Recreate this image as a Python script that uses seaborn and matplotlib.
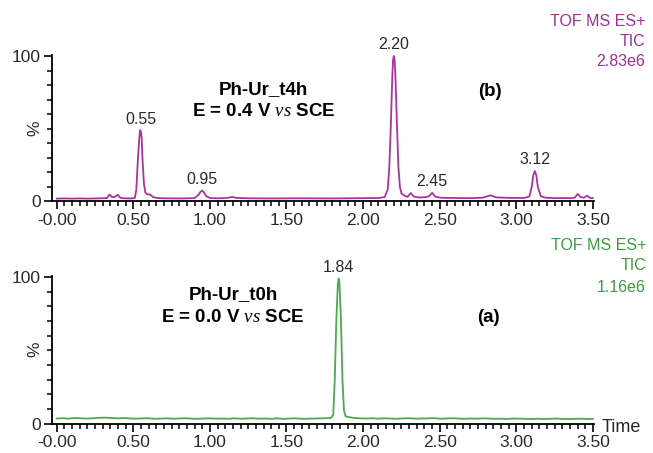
import matplotlib
matplotlib.use("Agg")
import matplotlib.pyplot as plt
from matplotlib.ticker import MultipleLocator, FixedLocator
import seaborn as sns
import pandas as pd

# ---------------- data ----------------
# (b) Ph-Ur_t4h, E = 0.4 V vs SCE  -- TIC in % of 2.83e6
t_top = [0.00, 0.05, 0.10, 0.15, 0.20, 0.25, 0.30, 0.33, 0.345, 0.36, 0.375, 0.40, 0.415,
         0.44, 0.48, 0.51, 0.52, 0.53, 0.54, 0.545, 0.55, 0.555, 0.56, 0.57, 0.58, 0.59,
         0.61, 0.63, 0.66, 0.70, 0.80, 0.90, 0.925, 0.94, 0.95, 0.96, 0.975, 1.00, 1.05,
         1.10, 1.13, 1.145, 1.17, 1.25, 1.40, 1.60, 1.80, 2.00, 2.10, 2.14, 2.16, 2.17,
         2.18, 2.19, 2.195, 2.20, 2.205, 2.21, 2.22, 2.23, 2.24, 2.25, 2.27, 2.29, 2.31,
         2.33, 2.36, 2.40, 2.43, 2.45, 2.47, 2.50, 2.60, 2.70, 2.78, 2.83, 2.87, 2.95,
         3.05, 3.085, 3.10, 3.11, 3.12, 3.13, 3.14, 3.16, 3.19, 3.25, 3.30, 3.35, 3.38,
         3.40, 3.42, 3.44, 3.46, 3.48, 3.50]
i_top = [2.0, 2.1, 2.0, 2.1, 2.0, 2.1, 2.2, 2.4, 4.8, 3.2, 3.0, 4.6, 2.6,
         2.2, 2.1, 2.3, 8.0, 28.0, 44.0, 49.0, 48.0, 44.0, 30.0, 12.0, 6.0, 5.0,
         4.8, 3.0, 2.4, 2.2, 2.1, 2.3, 4.5, 6.8, 7.5, 6.5, 3.8, 2.4, 2.2,
         2.3, 2.8, 3.2, 2.5, 2.2, 2.1, 2.2, 2.1, 2.3, 2.4, 3.0, 8.0, 22.0,
         50.0, 85.0, 97.0, 100.0, 98.0, 88.0, 55.0, 24.0, 10.0, 5.5, 4.0, 3.2, 5.8,
         3.4, 2.8, 2.9, 3.6, 6.0, 3.4, 2.6, 2.4, 2.3, 2.6, 4.2, 2.8, 2.5,
         2.4, 3.5, 10.0, 18.0, 21.0, 18.0, 10.0, 3.6, 2.6, 2.3, 2.4, 2.3, 2.6,
         5.2, 3.0, 2.6, 4.0, 2.4, 2.4]

# (a) Ph-Ur_t0h, E = 0.0 V vs SCE  -- TIC in % of 1.16e6
t_bot = [0.00, 0.04, 0.08, 0.12, 0.16, 0.20, 0.24, 0.28, 0.32, 0.36, 0.40, 0.44, 0.48,
         0.52, 0.56, 0.60, 0.64, 0.68, 0.72, 0.76, 0.80, 0.84, 0.88, 0.92, 0.96, 1.00,
         1.04, 1.08, 1.12, 1.16, 1.20, 1.24, 1.28, 1.32, 1.36, 1.40, 1.44, 1.48, 1.52,
         1.56, 1.60, 1.64, 1.68, 1.72, 1.76, 1.79, 1.805, 1.815, 1.825, 1.835, 1.84,
         1.845, 1.855, 1.865, 1.875, 1.885, 1.90, 1.94, 1.98, 2.02, 2.06, 2.10, 2.14,
         2.18, 2.22, 2.26, 2.30, 2.34, 2.38, 2.42, 2.46, 2.50, 2.54, 2.58, 2.62, 2.66,
         2.70, 2.74, 2.78, 2.82, 2.86, 2.90, 2.94, 2.98, 3.02, 3.06, 3.10, 3.14, 3.18,
         3.22, 3.26, 3.30, 3.34, 3.38, 3.42, 3.46, 3.50]
i_bot = [3.4, 3.6, 3.3, 3.8, 3.5, 3.4, 3.6, 3.9, 4.0, 3.7, 3.5, 3.8, 3.4,
         3.3, 3.5, 3.6, 3.2, 3.4, 3.5, 3.3, 3.4, 3.6, 3.3, 3.2, 3.4, 3.5,
         3.3, 3.4, 3.2, 3.5, 3.3, 3.4, 3.6, 3.3, 3.4, 3.2, 3.5, 3.1, 3.4,
         3.5, 3.2, 3.3, 3.4, 3.5, 3.6, 3.8, 6.0, 30.0, 70.0, 95.0, 99.0,
         97.0, 72.0, 30.0, 9.0, 5.0, 4.5, 3.8, 3.5, 3.4, 3.6, 3.3, 3.5,
         3.4, 3.2, 3.5, 3.6, 3.3, 3.4, 3.5, 3.7, 3.3, 3.4, 3.6, 3.4, 3.2,
         3.4, 3.3, 3.5, 3.4, 3.2, 3.3, 3.1, 3.4, 3.3, 3.2, 3.0, 3.3, 3.1,
         3.2, 3.4, 3.1, 3.0, 3.2, 3.3, 3.1, 3.2]

peak_t_top = [0.55, 0.95, 2.20, 2.45, 3.12]
peak_h_top = [49.0, 7.5, 100.0, 6.0, 21.0]
peak_lbl_top = ["0.55", "0.95", "2.20", "2.45", "3.12"]
peak_t_bot = [1.84]
peak_h_bot = [99.0]
peak_lbl_bot = ["1.84"]

x_ticks = [0.0, 0.5, 1.0, 1.5, 2.0, 2.5, 3.0, 3.5]
x_labels = ["-0.00", "0.50", "1.00", "1.50", "2.00", "2.50", "3.00", "3.50"]

df_top = pd.DataFrame({"time": t_top, "pct": i_top})
df_bot = pd.DataFrame({"time": t_bot, "pct": i_bot})

# ---------------- style ----------------
sns.set_style("ticks")
plt.rcParams["font.family"] = ["Liberation Sans", "DejaVu Sans"]
plt.rcParams["mathtext.fontset"] = "custom"
plt.rcParams["mathtext.it"] = "Liberation Serif:italic"
plt.rcParams["mathtext.rm"] = "Liberation Sans"

PURPLE = "#A8359E"
PURPLE_T = "#9E2F94"
GREEN = "#4FA84F"
GREEN_T = "#3E9A3E"
TXT = "#2a2a2a"

W, H = 653, 453
fig = plt.figure(figsize=(W / 100, H / 100), dpi=100)

def px_axes(x0, x1, y_zero, y_top):
    return fig.add_axes([x0 / W, 1 - y_zero / H, (x1 - x0) / W, (y_zero - y_top) / H])

ax_top = px_axes(52, 593.8, 201.5, 54.5)
ax_bot = px_axes(52, 593.8, 423.5, 275.5)

for ax, df, col in [(ax_top, df_top, PURPLE), (ax_bot, df_bot, GREEN)]:
    sns.lineplot(data=df, x="time", y="pct", ax=ax, color=col, linewidth=1.3)
    ax.set_xlim(-0.03, 3.505)
    ax.set_ylim(0, 101)
    ax.set_xlabel("")
    sns.despine(ax=ax)
    for s in ["left", "bottom"]:
        ax.spines[s].set_color("black")
        ax.spines[s].set_linewidth(1.3)
    ax.xaxis.set_major_locator(FixedLocator(x_ticks))
    ax.set_xticklabels(x_labels)
    ax.xaxis.set_minor_locator(MultipleLocator(0.05))
    ax.yaxis.set_major_locator(FixedLocator([0, 100]))
    ax.set_yticklabels(["0", "100"])
    ax.yaxis.set_minor_locator(MultipleLocator(10))
    ax.tick_params(axis="both", which="major", direction="out", length=6, width=1.2,
                   colors="black", labelcolor=TXT, labelsize=12.5, pad=2)
    ax.tick_params(axis="both", which="minor", direction="out", length=3.5, width=1.1,
                   colors="black")
    ax.set_ylabel("%", fontsize=12.5, color=TXT)
    ax.yaxis.set_label_coords(-0.017, 0.5)

# peak labels
for t, h, l in zip(peak_t_top, peak_h_top, peak_lbl_top):
    ax_top.annotate(l, xy=(t, h), xytext=(0, 2.5), textcoords="offset points",
                    ha="center", va="bottom", fontsize=11.5, color=TXT)
for t, h, l in zip(peak_t_bot, peak_h_bot, peak_lbl_bot):
    ax_bot.annotate(l, xy=(t, h), xytext=(0, 2.5), textcoords="offset points",
                    ha="center", va="bottom", fontsize=11.5, color=TXT)

def ftext(x, y, s, **kw):
    fig.text(x / W, 1 - y / H, s, **kw)

# top panel annotations
ftext(263, 90, "Ph-Ur_t4h", ha="center", va="center", fontsize=13.5, fontweight="bold", color="black")
ftext(264, 112, r"E = 0.4 V $\mathit{vs}$ SCE", ha="center", va="center", fontsize=13.5,
      fontweight="bold", color="black")
ftext(490, 92, "(b)", ha="center", va="center", fontsize=13.5, fontweight="bold", color="black")
ftext(645, 21, "TOF MS ES+", ha="right", va="center", fontsize=11.5, color=PURPLE_T)
ftext(645, 42, "TIC", ha="right", va="center", fontsize=11.5, color=PURPLE_T)
ftext(645, 62, "2.83e6", ha="right", va="center", fontsize=11.5, color=PURPLE_T)

# bottom panel annotations
ftext(233, 295, "Ph-Ur_t0h", ha="center", va="center", fontsize=13.5, fontweight="bold", color="black")
ftext(233, 318, r"E = 0.0 V $\mathit{vs}$ SCE", ha="center", va="center", fontsize=13.5,
      fontweight="bold", color="black")
ftext(488, 318, "(a)", ha="center", va="center", fontsize=13.5, fontweight="bold", color="black")
ftext(646, 245, "TOF MS ES+", ha="right", va="center", fontsize=11.5, color=GREEN_T)
ftext(646, 266, "TIC", ha="right", va="center", fontsize=11.5, color=GREEN_T)
ftext(646, 287, "1.16e6", ha="right", va="center", fontsize=11.5, color=GREEN_T)
ftext(602, 427, "Time", ha="left", va="center", fontsize=13, color=TXT)

fig.savefig("out.png", dpi=100)
